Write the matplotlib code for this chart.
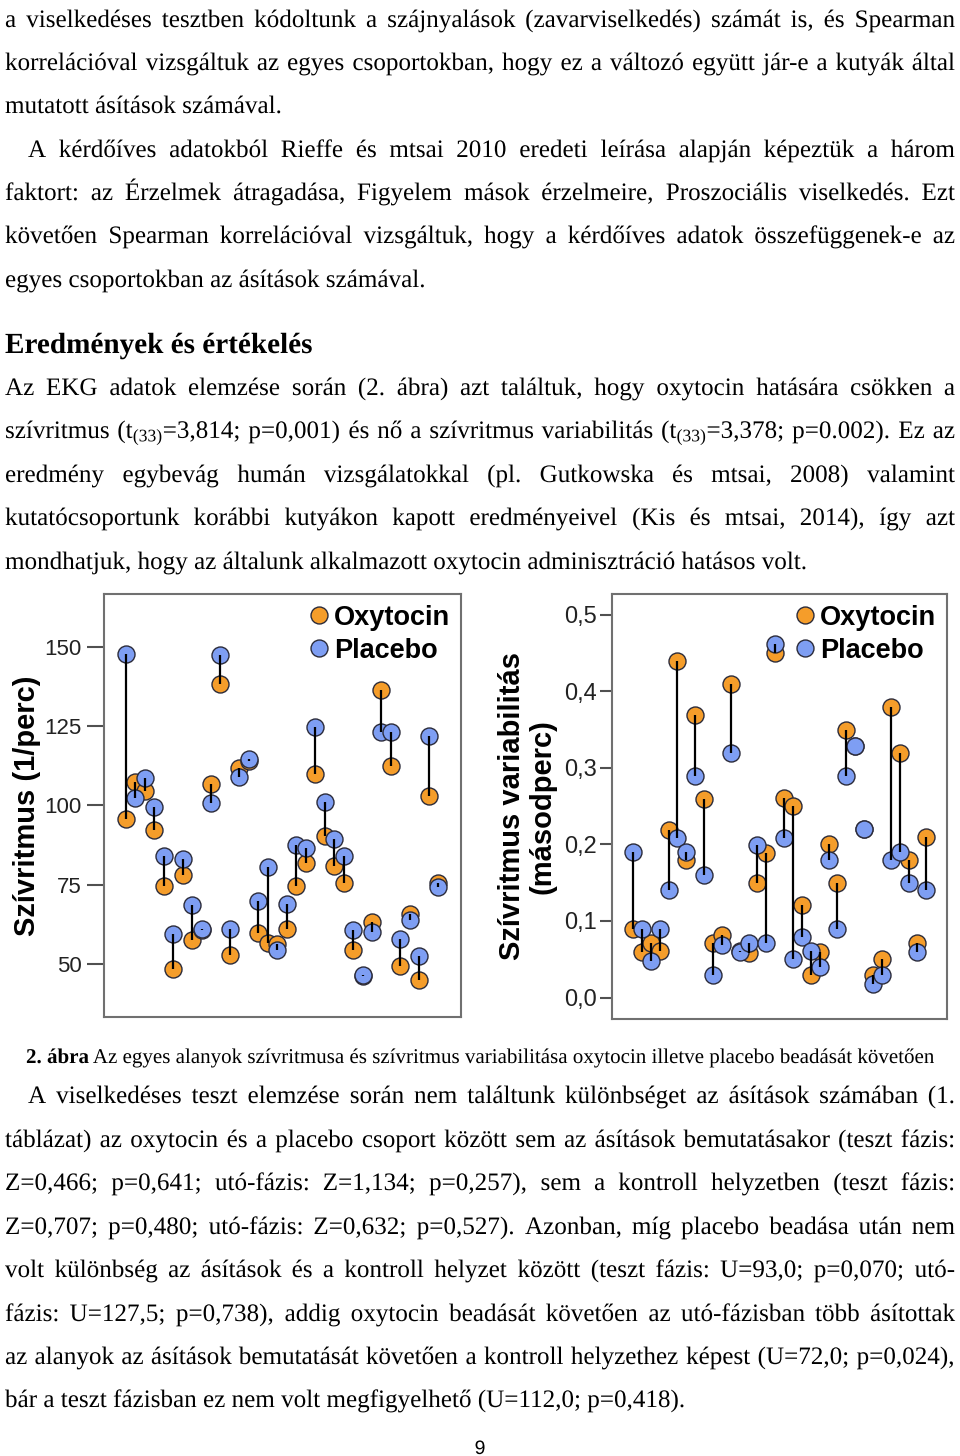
import matplotlib
matplotlib.use('Agg')
import matplotlib.pyplot as plt
import matplotlib.patheffects as pe
from matplotlib.lines import Line2D
import numpy as np

plt.rcParams['mathtext.fontset'] = 'custom'
plt.rcParams['mathtext.rm'] = 'Liberation Serif'
plt.rcParams['mathtext.it'] = 'Liberation Serif:italic'

# heart rate (1/perc), one pair per dog
hr_oxy = [95.9, 107.5, 104.5, 92.2, 74.5, 48.4, 78.0, 57.6, 60.7, 106.9, 138.2, 53.0,
          111.7, 114.1, 59.7, 56.7, 56.3, 61.0, 74.5, 81.9, 109.8, 90.3, 80.9, 75.7,
          54.4, 46.3, 63.3, 136.3, 112.5, 49.5, 65.8, 45.0, 103.0, 75.7]
hr_pla = [147.6, 102.5, 108.7, 99.6, 84.0, 59.5, 83.0, 68.8, 61.0, 100.8, 147.4, 61.0,
          109.0, 114.6, 69.9, 80.7, 54.4, 69.0, 87.5, 86.7, 124.8, 101.1, 89.4, 84.0,
          60.7, 46.5, 60.2, 123.2, 123.2, 57.9, 63.9, 52.6, 122.0, 74.4]
# heart rate variability (masodperc)
hrv_oxy = [0.089, 0.060, 0.071, 0.061, 0.219, 0.439, 0.180, 0.369, 0.259, 0.071, 0.082, 0.409,
           0.061, 0.058, 0.150, 0.189, 0.450, 0.260, 0.250, 0.121, 0.029, 0.060, 0.200, 0.150,
           0.350, 0.329, 0.220, 0.030, 0.050, 0.379, 0.319, 0.180, 0.071, 0.210]
hrv_pla = [0.190, 0.089, 0.048, 0.089, 0.140, 0.209, 0.190, 0.289, 0.160, 0.029, 0.068, 0.319,
           0.060, 0.071, 0.199, 0.071, 0.462, 0.209, 0.050, 0.079, 0.061, 0.040, 0.180, 0.089,
           0.289, 0.329, 0.220, 0.018, 0.030, 0.180, 0.190, 0.150, 0.059, 0.140]

hr_ticks = [50, 75, 100, 125, 150]
hrv_ticks = [0.0, 0.1, 0.2, 0.3, 0.4, 0.5]
hrv_ticklabels = ['0,0', '0,1', '0,2', '0,3', '0,4', '0,5']

ORANGE = '#F59D2A'
BLUE = '#7E9EF3'
EDGE = '#2b2b3a'

W, H = 960, 1456
fig = plt.figure(figsize=(9.6, 14.56), dpi=100)
renderer = fig.canvas.get_renderer()
# drawing text as paths keeps the baselines of separate words level
AS_PATH = [pe.Normal()]


def put(s, x, y, size, weight='normal', family='Liberation Serif', ha='left'):
    return fig.text(x / W, 1 - y / H, s, fontsize=size, fontweight=weight,
                    family=family, ha=ha, va='baseline', path_effects=AS_PATH)


def width(t):
    return t.get_window_extent(renderer).width


def line(s, y, x0=5, x1=955, justify=True):
    if not justify:
        put(s, x0, y, BODY)
        return
    words = s.split(' ')
    ts = [put(w, x0, y, BODY) for w in words]
    ws = [width(t) for t in ts]
    gap = (x1 - x0 - sum(ws)) / (len(ws) - 1)
    x = x0
    for t, w in zip(ts, ws):
        t.set_x(x / W)
        x += w + gap


# font size fitted to the last (left aligned) line of the page
last = put('bár a teszt fázisban ez nem volt megfigyelhető (U=112,0; p=0,418).', 5, 1407, 20)
BODY = 20 * 680 / width(last)
last.set_fontsize(BODY)

# first paragraph
line('a viselkedéses tesztben kódoltunk a szájnyalások (zavarviselkedés) számát is, és Spearman', 27)
line('korrelációval vizsgáltuk az egyes csoportokban, hogy ez a változó együtt jár-e a kutyák által', 70)
line('mutatott ásítások számával.', 113, justify=False)
line('A kérdőíves adatokból Rieffe és mtsai 2010 eredeti leírása alapján képeztük a három', 157, x0=28)
line('faktort: az Érzelmek átragadása, Figyelem mások érzelmeire, Proszociális viselkedés. Ezt', 200)
line('követően Spearman korrelációval vizsgáltuk, hogy a kérdőíves adatok összefüggenek-e az', 243)
line('egyes csoportokban az ásítások számával.', 287, justify=False)

head = put('Eredmények és értékelés', 5, 353, 20, weight='bold')
head.set_fontsize(20 * 308 / width(head))

line('Az EKG adatok elemzése során (2. ábra) azt találtuk, hogy oxytocin hatására csökken a', 395)
line('szívritmus (t$_{\\mathrm{(33)}}$=3,814; p=0,001) és nő a szívritmus variabilitás '
     '(t$_{\\mathrm{(33)}}$=3,378; p=0.002). Ez az', 438)
line('eredmény egybevág humán vizsgálatokkal (pl. Gutkowska és mtsai, 2008) valamint', 482)
line('kutatócsoportunk korábbi kutyákon kapott eredményeivel (Kis és mtsai, 2014), így azt', 525)
line('mondhatjuk, hogy az általunk alkalmazott oxytocin adminisztráció hatásos volt.', 569, justify=False)

# caption
cap_b = put('2. ábra', 26, 1063, 20, weight='bold')
cap_r = put(' Az egyes alanyok szívritmusa és szívritmus variabilitása oxytocin illetve placebo beadását követően',
            26, 1063, 20)
cap_size = 20 * 909 / (width(cap_b) + width(cap_r))
cap_b.set_fontsize(cap_size)
cap_r.set_fontsize(cap_size)
cap_r.set_x((26 + width(cap_b)) / W)

line('A viselkedéses teszt elemzése során nem találtunk különbséget az ásítások számában (1.', 1103, x0=28)
line('táblázat) az oxytocin és a placebo csoport között sem az ásítások bemutatásakor (teszt fázis:', 1147)
line('Z=0,466; p=0,641; utó-fázis: Z=1,134; p=0,257), sem a kontroll helyzetben (teszt fázis:', 1190)
line('Z=0,707; p=0,480; utó-fázis: Z=0,632; p=0,527). Azonban, míg placebo beadása után nem', 1234)
line('volt különbség az ásítások és a kontroll helyzet között (teszt fázis: U=93,0; p=0,070; utó-', 1277)
line('fázis: U=127,5; p=0,738), addig oxytocin beadását követően az utó-fázisban több ásítottak', 1321)
line('az alanyok az ásítások bemutatását követően a kontroll helyzethez képest (U=72,0; p=0,024),', 1364)

put('9', 480, 1454, 14, family='Liberation Sans', ha='center')


def pairs(ax, oxy, pla):
    x = np.arange(1, len(oxy) + 1)
    ax.vlines(x, oxy, pla, color='black', lw=1.6, zorder=4)
    ax.scatter(x, oxy, s=150, c=ORANGE, edgecolors=EDGE, linewidths=1, zorder=2)
    ax.scatter(x, pla, s=150, c=BLUE, edgecolors=EDGE, linewidths=1, zorder=3)
    for sp in ax.spines.values():
        sp.set_color('#707070')
        sp.set_linewidth(1.5)
    ax.set_xticks([])
    ax.tick_params(axis='y', length=12, width=1.5, color='#505050', pad=4,
                   labelsize=16, labelcolor='#222222')
    handles = [Line2D([], [], marker='o', ls='', ms=12.2, mfc=ORANGE, mec=EDGE),
               Line2D([], [], marker='o', ls='', ms=12.2, mfc=BLUE, mec=EDGE)]
    ax.legend(handles, ['Oxytocin', 'Placebo'], loc='upper right', frameon=False,
              prop={'family': 'Liberation Sans', 'weight': 'bold', 'size': 19.5},
              handletextpad=0.15, labelspacing=0.25, borderpad=0.4, borderaxespad=0,
              handlelength=0.8)


ax1 = fig.add_axes([104 / W, 1 - 1017 / H, 357 / W, 423 / H])
pairs(ax1, hr_oxy, hr_pla)
ax1.set_xlim(-1.3, 36.4)
ax1.set_ylim(33.4, 166.6)
ax1.set_yticks(hr_ticks)
ax1.set_yticklabels([str(v) for v in hr_ticks], family='Liberation Sans')
ax1.set_ylabel('Szívritmus (1/perc)', family='Liberation Sans', fontweight='bold',
               fontsize=21, va='center')
ax1.yaxis.set_label_coords(-0.215, 0.5)

ax2 = fig.add_axes([612 / W, 1 - 1019 / H, 335 / W, 425 / H])
pairs(ax2, hrv_oxy, hrv_pla)
ax2.set_xlim(-1.37, 36.33)
ax2.set_ylim(-0.028, 0.527)
ax2.set_yticks(hrv_ticks)
ax2.set_yticklabels(hrv_ticklabels, family='Liberation Sans', fontsize=17)
ax2.tick_params(axis='y', length=9, pad=2)
ax2.set_ylabel('Szívritmus variabilitás\n(másodperc)', family='Liberation Sans',
               fontweight='bold', fontsize=21, va='center', linespacing=1.1)
ax2.yaxis.set_label_coords(-0.254, 0.5)

fig.savefig('out.png', dpi=100, facecolor='white')
